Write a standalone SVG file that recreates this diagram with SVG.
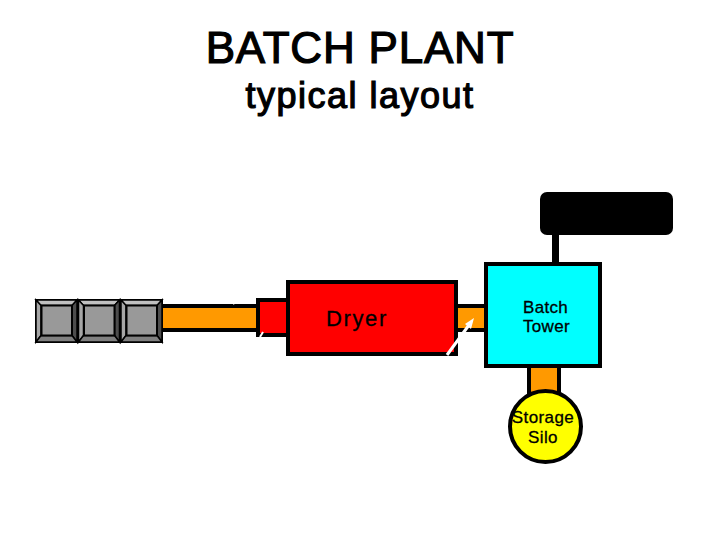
<svg xmlns="http://www.w3.org/2000/svg" width="720" height="540" viewBox="0 0 720 540">
<style>
text{font-family:"Liberation Sans",Arial,sans-serif;fill:#000;text-anchor:middle;stroke:#000;stroke-width:.3}
.t{stroke-width:1.200}
.s{stroke:#000;stroke-width:4}
.o{fill:#ff9900}
.r{fill:#ff0000}
.w{stroke:#fff;fill:none}
.bv{stroke:#000;stroke-width:1.500;stroke-linejoin:miter}
.b1{fill:#999;stroke:#000;stroke-width:2}
.lt{fill:#c0c0c0}
.dk{fill:#4d4d4d}
.md{fill:#a6a6a6}
.mb{fill:#808080}
</style>
<defs>
<g id="bin">
<rect x="0" y="0" width="43" height="44" fill="#000"/>
<polygon class="lt bv" points="1,1 42,1 37,6.500 6,6.500"/>
<polygon class="md bv" points="1,1 6,6.500 6,36.500 1,43"/>
<polygon class="dk bv" points="42,1 37,6.500 37,36.500 42,43"/>
<polygon class="mb bv" points="1,43 6,36.500 37,36.500 42,43"/>
<rect class="b1" x="6.500" y="6.500" width="30.500" height="30"/>
</g>
</defs>
<rect width="720" height="540" fill="#fff"/>
<g id="title">
<text class="t" x="360" y="63" font-size="44" letter-spacing=".8">BATCH PLANT</text>
<text class="t" x="360" y="108" font-size="36" letter-spacing="1.500">typical layout</text>
</g>
<g id="connectors">
<rect class="s o" x="161" y="306" width="98" height="24"/>
<rect class="s o" x="456" y="306" width="30" height="24"/>
<rect class="s o" x="529" y="366" width="30" height="30"/>
<rect x="552" y="233" width="7" height="31" fill="#000"/>
</g>
<g id="bins">
<use href="#bin" x="35" y="299"/>
<use href="#bin" x="77.500" y="299"/>
<use href="#bin" x="120" y="299"/>
</g>
<g id="dryer-inlet"><rect class="s r" x="258" y="300" width="31" height="35"/></g>
<g id="dryer">
<rect class="s r" x="288" y="282" width="168" height="72"/>
<text x="357" y="326" font-size="22" letter-spacing="1.600">Dryer</text>
</g>
<g id="batch-tower">
<rect class="s" x="486" y="264" width="114" height="102" fill="#00ffff"/>
<text x="545.500" y="313" font-size="17" letter-spacing=".3">Batch</text>
<text x="546.500" y="332" font-size="17" letter-spacing=".3">Tower</text>
</g>
<g id="hopper"><rect x="540" y="192" width="133" height="43" rx="7" fill="#000"/></g>
<g id="storage-silo">
<circle class="s" cx="545.500" cy="426.500" r="35.500" fill="#ffff00"/>
<text x="543" y="423" font-size="17" letter-spacing=".4">Storage</text>
<text x="543" y="443" font-size="17" letter-spacing=".4">Silo</text>
</g>
<g id="marks">
<path class="w" stroke-width="3" d="M447 355L469 325"/>
<polygon fill="#fff" points="474,318 471,329 465,324"/>
<path class="w" stroke-width="2" d="M260 337L263 332"/>
<path class="w" stroke-width="1.500" d="M233 304L237 302"/>
</g>
</svg>
